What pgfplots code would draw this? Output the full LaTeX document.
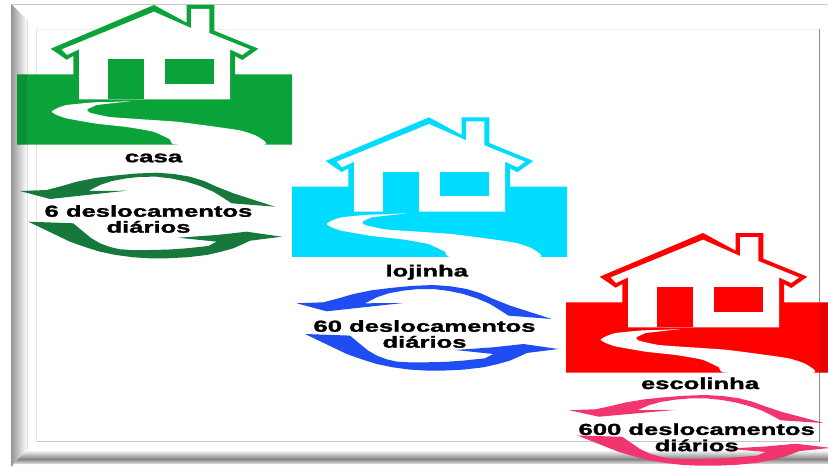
\documentclass[border=0pt]{standalone}
\usepackage{fontspec}
\setmainfont{Liberation Sans}
\newfontfamily\heavy{Liberation Sans}[BoldFeatures={FakeBold=1.4}]
\usepackage{pgfplots}
\usepackage{pgfplotstable}
\pgfplotsset{compat=1.18}

\definecolor{casagreen}{HTML}{0AA339}
\definecolor{casaarrow}{HTML}{17783C}
\definecolor{lojacyan}{HTML}{00DCFF}
\definecolor{lojaarrow}{HTML}{1F4DF2}
\definecolor{escolared}{HTML}{FF0000}
\definecolor{escolaarrow}{HTML}{F2356F}

% shapes in pixel coordinates of the first house
\pgfplotstableread{
x y
17 74.4
73.3 74.4
73.3 56
66.7 59.7
50.7 48.7
154 5
186.7 22.7
186.7 5
214.3 5
214.3 30.7
258.3 48.7
242.3 60
235 56
235 74.4
292 74.4
292 144.6
17 144.6
}\groundtbl
\pgfplotstableread{
x y
154 11.7
191 28
191 9
209.3 9
209.3 33
250 49.4
242.3 55
230 49.4
230 99.4
79 99.4
79 49.4
67 55
61.7 49.4
}\walltbl
\pgfplotstableread{
x y
107.7 59.4
144.3 59.4
144.3 99.4
107.7 99.4
}\doortbl
\pgfplotstableread{
x y
165.3 59.4
213.7 59.4
213.7 83.7
165.3 83.7
}\windowtbl
\pgfplotstableread{
x y
131.7 101
110 102
93.3 102.4
66.7 105
56.7 108.4
51.7 111.7
56.7 115
66.7 118.4
96.7 123.7
126.7 127
153.3 131.7
170 139.4
176.7 144.7
264.3 144.7
256.7 136
240 130.4
210 126
176.7 121.7
143.3 119.4
110 117
90 112.7
87.3 109.4
96.7 105
}\pathtbl
\pgfplotstableread{
x y
275 206.7
231.7 203.3
222 197
213.3 191.7
200 186
186.7 181.7
172 178.6
156.7 176.7
141 176.8
126.7 178.3
112 181
100 185
88.3 191
126.7 190.7
86.7 195
50 199
20 191
46.7 190
62 186
76.7 181.7
95 178
113.3 175.7
135 173.6
156.7 172.7
174 174
190 176.7
204 181
216.7 186.7
233.3 193.3
}\arrowtop
\pgfplotstableread{
x y
28.3 221.7
73.3 223.3
83.3 231.7
91 238
100 243.3
110 247
120 249.3
135 250.2
150 250
168 249.6
186.7 248.3
208.3 246
216.7 241.7
178.3 237.7
216.7 235
246.7 231.7
281.7 236.7
250 240.7
242 244.5
233.3 248.3
220 252
206.7 255
187 257.3
166.7 258.3
150 258.3
133.3 257.3
116 255
100 251.7
85 247
70 241.7
}\arrowbot

\newcommand{\poly}[4]{\addplot[fill=#1,draw=none] table[x expr=\thisrow{x}+#3,y expr=\thisrow{y}+#4]{#2};}
\newcommand{\curvy}[4]{\addplot[fill=#1,draw=none,smooth,tension=0.3] table[x expr=\thisrow{x}+#3,y expr=\thisrow{y}+#4]{#2};}
\newcommand{\house}[3]{%
  \poly{#1}{\groundtbl}{#2}{#3}
  \poly{white}{\walltbl}{#2}{#3}
  \poly{#1}{\doortbl}{#2}{#3}
  \poly{#1}{\windowtbl}{#2}{#3}
  \curvy{white}{\pathtbl}{#2}{#3}
}
\newcommand{\arrows}[4]{%
  \addplot[fill=#1,draw=none] table[x expr=\thisrow{x}+#2,y expr=#3+(\thisrow{y}-172.7)*#4]{\arrowtop};
  \addplot[fill=#1,draw=none] table[x expr=\thisrow{x}+#2,y expr=#3+(\thisrow{y}-172.7)*#4]{\arrowbot};
}
\newcommand{\lbl}[4]{\node[inner sep=0pt] at (axis cs:#1,#2) {\scalebox{#3}[1]{\fontsize{16}{16}\selectfont\heavy\bfseries #4}};}
\newcommand{\lbltwo}[5]{\node[inner sep=0pt] at (axis cs:#1,#2) {\scalebox{1.6}[1]{\fontsize{16}{#5}\selectfont\heavy\bfseries
  \begin{tabular}{@{}c@{}}#3\\#4\end{tabular}}};}

\begin{document}
\begin{tikzpicture}
\begin{axis}[
    scale only axis,
    width=828pt, height=468pt,
    xmin=0, xmax=828, ymin=0, ymax=468,
    y dir=reverse,
    hide axis,
    clip=true
]
\addplot[draw=none,fill=white] coordinates {(0,0) (828,0) (828,468) (0,468)};
% frame
\addplot[draw=none,left color=black!42,right color=white] coordinates {(11,4) (27,20) (27,450) (11,467)};
\addplot[draw=none,top color=white,bottom color=black!48] coordinates {(27,450) (828,450) (828,459) (18,459)};
\addplot[draw=none,top color=black!48,bottom color=black!12] coordinates {(18,459) (828,459) (828,464) (13,464)};
\addplot[black!22,line width=1.5pt] coordinates {(11,4.5) (828,4.5)};
\addplot[black!12,line width=1pt] coordinates {(27,20) (27,450)};
\addplot[black!6,line width=0.8pt] coordinates {(36.5,29) (819,29)};
\addplot[black!10,line width=0.8pt] coordinates {(36.5,29) (36.5,441.5)};
\addplot[black!22,line width=1pt] coordinates {(36.5,441.5) (819,441.5)};
\addplot[black!45,line width=1pt] coordinates {(819,29) (819,441.5)};

\house{casagreen}{0}{0}
\house{lojacyan}{275}{112.3}
\house{escolared}{549}{228}
\addplot[draw=none,fill=black,fill opacity=0.1] coordinates {(819.5,302.4) (828,302.4) (828,372.9) (819.5,372.9)};
\addplot[draw=none,fill=black,fill opacity=0.1] coordinates {(17,74.4) (27,74.4) (27,144.6) (17,144.6)};

\arrows{casaarrow}{0}{172.7}{1}
\arrows{lojaarrow}{276.7}{285}{1}
\arrows{escolaarrow}{549}{395}{0.826}

\lbl{153.5}{158}{1.62}{casa}
\lbltwo{148.5}{221}{6 deslocamentos}{diários}{14}
\lbl{426.7}{272.3}{1.6}{lojinha}
\lbltwo{424.5}{336}{60 deslocamentos}{diários}{14}
\lbl{700}{383.3}{1.6}{escolinha}
\lbltwo{696.7}{439.5}{600 deslocamentos}{diários}{15}
\end{axis}
\end{tikzpicture}
\end{document}
